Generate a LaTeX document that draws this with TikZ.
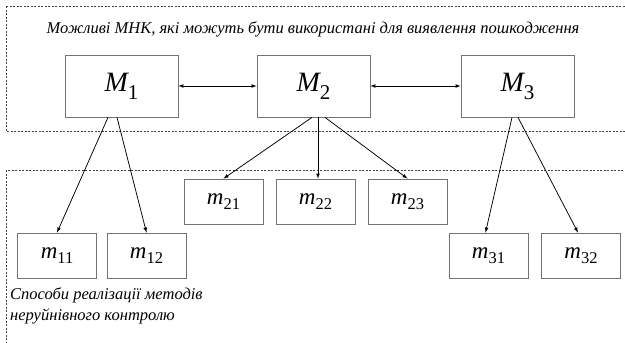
\documentclass[tikz,border=0pt]{standalone}
\usepackage{fontspec}
\setmainfont{Liberation Serif}
\usetikzlibrary{arrows}

\newcommand{\Mtxt}[1]{{\fontsize{28}{28}\selectfont\itshape M}\lower8pt\hbox{\fontsize{21}{21}\selectfont #1}}
\newcommand{\mtxt}[1]{{\fontsize{23}{23}\selectfont\itshape m}\lower5.5pt\hbox{\fontsize{16.5}{16.5}\selectfont #1}}

\begin{document}
\begin{tikzpicture}[x=1pt,y=-1pt,
  bigbox/.style={rectangle,draw=black!55,line width=0.8pt,minimum width=113pt,minimum height=62pt,inner sep=0pt},
  smallbox/.style={rectangle,draw=black!55,line width=0.8pt,minimum width=79pt,minimum height=45pt,inner sep=0pt},
  frame/.style={draw=black!75,line width=0.8pt,dash pattern=on 2pt off 1.5pt},
  link/.style={-latex,line width=0.75pt},
  twolink/.style={latex-latex,line width=0.75pt}]
\useasboundingbox (0,0) rectangle (625,343);
\draw[frame] (6,6) rectangle (640,131);
\draw[frame] (6,170) rectangle (640,352);
\node[anchor=base,font=\fontsize{16.5}{20}\selectfont\itshape] (title) at (313,33) {Можливі МНК, які можуть бути використані для виявлення пошкодження};
\node[bigbox] (M1) at (121.5,86) {\Mtxt{1}};
\node[bigbox] (M2) at (313.5,86) {\Mtxt{2}};
\node[bigbox] (M3) at (517.5,86) {\Mtxt{3}};
\node[smallbox] (m11) at (57,255.5) {\mtxt{11}};
\node[smallbox] (m12) at (146.5,255.5) {\mtxt{12}};
\node[smallbox] (m21) at (223.5,201.5) {\mtxt{21}};
\node[smallbox] (m22) at (315.5,201.5) {\mtxt{22}};
\node[smallbox] (m23) at (407.5,201.5) {\mtxt{23}};
\node[smallbox] (m31) at (488.5,255.5) {\mtxt{31}};
\node[smallbox] (m32) at (581,255.5) {\mtxt{32}};
\node[anchor=north west,align=left,inner sep=0pt,font=\fontsize{16.5}{21}\selectfont\itshape] (ways) at (10,287) {Способи реалізації методів\\неруйнівного контролю};
\draw[twolink] (M1.east) -- (M2.west);
\draw[twolink] (M2.east) -- (M3.west);
\draw[link] ([xshift=-13.5pt]M1.south) -- (m11.north);
\draw[link] ([xshift=-4.5pt]M1.south) -- (m12.north);
\draw[link] ([xshift=-1.5pt]M2.south) -- (m21.north);
\draw[link] ([xshift=4.5pt]M2.south) -- ([xshift=2.5pt]m22.north);
\draw[link] ([xshift=11.5pt]M2.south) -- (m23.north);
\draw[link] ([xshift=-5.5pt]M3.south) -- ([xshift=-3pt]m31.north);
\draw[link] ([xshift=0.5pt]M3.south) -- ([xshift=-3pt]m32.north);
\end{tikzpicture}
\end{document}
